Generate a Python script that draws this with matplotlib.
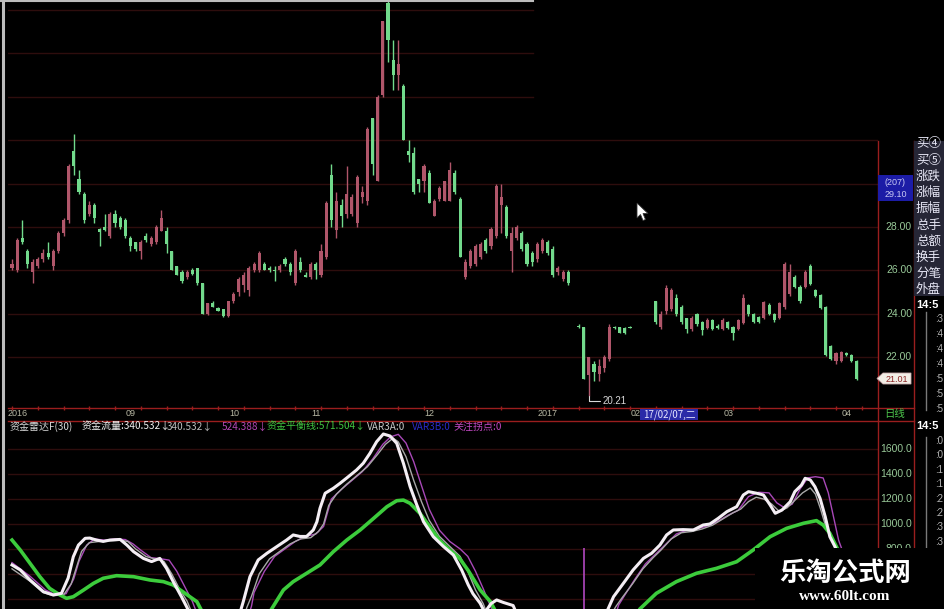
import numpy as np
import matplotlib
matplotlib.use('Agg')
import matplotlib.pyplot as plt
from matplotlib.lines import Line2D
from matplotlib.patches import Rectangle, Polygon
from matplotlib.ticker import MultipleLocator

plt.rcParams['font.family'] = ['Noto Sans CJK SC', 'DejaVu Sans']

W, H = 945, 609
nan = np.nan

# ---- daily K-line, one entry per trading day starting 2016-08-01 ----
opens = [26.1, 26.0, 27.5, 26.9, 25.9, 26.2, 26.5, 26.8, 26.2, 26.9,
         27.7, 28.3, 31.5, 30.2, 29.5, 28.6, 29.0, 27.9, 28.0, 27.6,
         28.6, 28.4, 28.3, 27.5, 27.3, 26.9, 27.6, 27.2, 27.3, 27.8,
         27.8, 26.9, 26.2, 25.9, 25.7, 26.0, 26.1, 25.4, 24.0, 24.5,
         24.25, 24.2, 23.9, 24.6, 25.0, 25.3, 25.1, 26.0, 26.0, 26.3,
         26.1, 26.0, 26.0, 26.5, 26.3, 25.4, 26.4, 25.8, 25.7, 26.3,
         25.8, 26.6, 30.4, 27.85, 29.0, 28.6, 28.6, 28.2, 29.4, 29.2,
         33.0, 30.1, 34.1, 38.3, 35.7, 35.0, 34.5, 31.5, 31.4, 30.2,
         30.1, 30.5, 28.5, 29.3, 29.2, 29.2, 30.5, 29.3, 25.7, 26.2,
         26.3, 26.6, 27.4, 27.1, 27.6, 29.0, 28.9, 26.9, 27.5, 27.7,
         27.2, 26.8, 26.5, 26.9, 27.3, 27.0, 25.9, 25.6, 25.9, nan,
         23.45, 23.4, 21.15, 21.7, 21.2, 21.5, 21.9, 23.4, 23.4, 23.35,
         23.4, nan, nan, nan, nan, 24.6, 23.4, 24.1, 24.2, 24.7,
         24.3, 23.8, 23.3, 24.0, 23.6, 23.35, 23.7, 23.45, 23.3, 23.6,
         23.4, 23.3, 23.55, 24.4, 24.0, 23.85, 23.8, 24.4, 24.0, 23.8,
         24.3, 24.9, 25.7, 25.25, 25.25, 26.2, 25.1, 24.85, 24.3, 22.5,
         21.8, 21.8, 22.2, 22.1, 21.8]
highs = [26.5, 27.5, 28.3, 27.0, 26.5, 26.6, 27.0, 27.3, 27.0, 27.8,
         28.4, 30.9, 32.3, 30.6, 29.6, 29.2, 29.1, 27.95, 28.6, 28.7,
         28.8, 28.5, 28.4, 27.6, 27.3, 27.4, 27.7, 27.6, 28.1, 28.8,
         28.0, 26.9, 26.2, 26.0, 26.0, 26.1, 26.1, 25.4, 24.5, 24.6,
         24.3, 24.2, 24.6, 25.0, 25.7, 25.9, 26.2, 26.4, 26.9, 26.4,
         26.2, 26.2, 26.3, 26.6, 26.4, 27.0, 26.6, 25.9, 26.4, 26.4,
         27.2, 29.2, 30.9, 29.6, 29.3, 30.8, 29.5, 30.4, 29.9, 32.6,
         33.0, 34.1, 37.5, 39.0, 36.6, 36.6, 34.6, 32.0, 31.7, 30.2,
         30.9, 30.6, 29.3, 29.9, 30.1, 31.0, 30.6, 29.4, 26.5, 27.0,
         27.2, 27.3, 27.5, 28.0, 30.0, 30.0, 29.0, 28.0, 28.1, 27.8,
         27.3, 26.9, 27.3, 27.5, 27.4, 27.1, 26.2, 26.0, 26.0, nan,
         23.5, 23.4, 22.0, 21.8, 21.9, 22.1, 23.5, 23.45, 23.4, 23.4,
         23.45, nan, nan, nan, nan, 24.6, 24.1, 25.3, 25.2, 24.9,
         24.4, 23.8, 23.9, 24.05, 23.65, 23.8, 23.75, 23.5, 23.8, 23.65,
         23.45, 23.75, 24.9, 24.45, 24.05, 23.9, 24.6, 24.5, 24.05, 24.55,
         26.4, 26.3, 25.8, 25.3, 26.0, 26.3, 25.15, 24.9, 24.35, 22.55,
         22.25, 22.3, 22.25, 22.15, 21.85]
lows = [26.0, 25.9, 27.2, 26.1, 25.4, 26.1, 26.4, 26.5, 26.0, 26.8,
        27.6, 28.2, 30.4, 29.5, 28.2, 28.5, 28.2, 27.1, 27.8, 27.5,
        28.0, 27.9, 27.5, 26.9, 26.9, 26.5, 27.3, 27.1, 27.2, 27.8,
        26.8, 26.0, 25.8, 25.4, 25.6, 25.8, 25.3, 24.0, 23.95, 24.3,
        24.1, 23.85, 23.85, 24.5, 24.8, 25.0, 24.8, 25.9, 25.9, 26.0,
        25.9, 25.5, 25.9, 26.2, 25.8, 25.3, 25.9, 25.7, 25.6, 25.6,
        25.7, 26.5, 28.0, 27.5, 28.0, 28.4, 28.5, 28.0, 29.1, 29.0,
        30.4, 30.1, 34.0, 35.6, 34.3, 34.3, 32.0, 31.0, 29.5, 29.6,
        29.6, 29.1, 28.5, 29.2, 29.2, 29.2, 29.5, 26.6, 25.6, 26.1,
        26.2, 26.5, 26.8, 27.0, 27.5, 27.7, 27.5, 25.9, 27.4, 26.9,
        26.2, 26.2, 26.4, 26.8, 26.7, 25.7, 25.8, 25.5, 25.3, nan,
        23.35, 21.0, 20.21, 20.9, 20.9, 21.3, 21.8, 23.3, 23.1, 23.05,
        23.35, nan, nan, nan, nan, 23.5, 23.3, 24.0, 24.1, 23.9,
        23.5, 23.1, 23.2, 23.45, 23.0, 23.3, 23.25, 23.3, 23.25, 23.3,
        22.8, 23.25, 23.5, 23.9, 23.55, 23.55, 23.75, 23.95, 23.6, 23.75,
        24.2, 24.8, 25.2, 24.5, 25.2, 25.3, 24.75, 24.2, 22.05, 21.85,
        21.7, 21.75, 22.05, 21.75, 20.95]
closes = [26.3, 27.4, 27.3, 26.3, 26.4, 26.5, 26.8, 26.6, 26.9, 27.7,
          28.3, 30.8, 30.8, 29.6, 28.3, 29.0, 28.4, 27.75, 27.85, 28.6,
          28.2, 28.0, 27.6, 27.1, 27.0, 27.3, 27.4, 27.5, 28.0, 28.4,
          27.2, 26.0, 25.8, 25.5, 25.9, 25.85, 25.4, 24.0, 24.5, 24.3,
          24.1, 23.9, 24.6, 24.9, 25.6, 25.8, 26.1, 26.3, 26.8, 26.0,
          26.0, 25.95, 26.2, 26.3, 25.9, 26.9, 26.0, 25.7, 26.3, 26.0,
          26.9, 29.1, 28.3, 29.2, 28.5, 29.5, 29.4, 30.3, 29.6, 32.5,
          30.9, 34.0, 37.5, 36.6, 35.0, 35.5, 32.0, 31.3, 29.6, 30.0,
          30.8, 29.1, 29.2, 29.8, 30.1, 30.6, 29.6, 26.6, 26.4, 26.9,
          27.1, 27.2, 26.9, 27.9, 29.9, 29.4, 27.6, 27.7, 28.0, 27.0,
          26.3, 26.4, 27.2, 27.4, 26.8, 25.8, 26.1, 25.9, 25.4, nan,
          23.4, 21.0, 22.0, 21.3, 21.6, 22.0, 23.4, 23.35, 23.1, 23.1,
          23.35, nan, nan, nan, nan, 23.6, 24.0, 25.2, 25.1, 24.0,
          23.6, 23.3, 23.8, 23.5, 23.25, 23.7, 23.3, 23.35, 23.7, 23.35,
          23.1, 23.7, 24.7, 24.0, 23.6, 23.6, 24.55, 24.0, 23.7, 24.5,
          26.3, 25.9, 25.25, 24.6, 25.9, 25.35, 24.8, 24.25, 22.1, 21.9,
          22.2, 22.25, 22.1, 21.8, 21.01]

month_days = [0, 23, 43, 59, 81, 103, 121, 139, 162]
month_labels = ['2016', '09', '10', '11', '12', '2017', '02', '03', '04']
price_ticks = [28, 26, 24, 22]
price_grid = [22, 24, 26, 28, 30, 32, 34, 36, 38]

# ---- 资金雷达 indicator lines, read as (trading day, value) ----
flow_days = [0, 1.6, 3.5, 6.1, 8.0, 9.6, 10.9, 11.9, 12.9, 14.2, 15.1, 16.4, 17.7, 19.0, 21.0,
             22.3, 23.6, 25.5, 27.1, 28.7, 30.0, 31.3, 32.9, 33.9, 34.9,
             44.0, 44.9, 46.2, 47.8, 49.5, 51.4, 53.3, 54.6, 55.9, 57.2, 58.5, 59.2, 59.8, 60.8,
             62.4, 63.7, 65.3, 66.9, 68.2, 69.5, 70.8, 72.1, 73.4, 74.7, 76.0, 77.3, 78.6, 79.9,
             81.8, 83.8, 85.7, 87.3, 88.6, 89.5, 90.9, 91.8, 93.0, 94.1, 95.4, 97.3, 98.3,
             115.0, 116.8, 118.7, 120.6, 122.6, 124.2, 125.8, 127.1, 128.4, 130.3, 132.3, 134.2,
             135.5, 137.1, 138.8, 140.7, 142.0, 143.0, 144.6, 145.9, 147.2, 148.2, 149.5, 151.1,
             152.0, 153.3, 154.0, 155.0, 155.9, 156.9, 157.9, 158.8, 159.8, 161.0, 162.5, 164.0]
flow_vals = [671, 631, 550, 456, 430, 443, 566, 737, 831, 885, 887, 871, 860, 871, 876,
             831, 778, 724, 698, 724, 644, 537, 416, 336, 250,
             250, 376, 577, 711, 765, 818, 871, 912, 900, 900, 952, 1018, 1126, 1247,
             1287, 1327, 1380, 1434, 1488, 1568, 1661, 1723, 1707, 1648, 1488, 1300, 1153, 1018,
             898, 818, 751, 631, 510, 440, 363, 290, 360, 390, 370, 345, 250,
             250, 416, 523, 631, 724, 765, 831, 912, 952, 955, 952, 992,
             1000, 1045, 1099, 1139, 1233, 1260, 1247, 1233, 1153, 1086, 1112, 1179,
             1260, 1313, 1367, 1354, 1300, 1206, 1059, 898, 818, 680, 500, 340.532]

flow2_days = [0, 3.5, 6, 8, 10, 11.5, 12.5, 13.5, 15, 17, 19, 21, 22.5, 24, 26, 28, 29.5, 31,
              32.5, 34, 35.3,
              45.0, 45.6, 46.5, 48, 50, 52, 54, 56, 58, 59.5, 60.5, 61.5, 63, 65, 67, 69, 71,
              72.5, 74, 75, 76.5, 78, 79.5, 81, 83, 85, 87, 88.5, 90, 91.5, 92.5,
              116.0, 117.3, 118.5, 120.5, 122.5, 124.5, 126, 128, 130, 132, 134, 136, 138, 140,
              141.5, 143, 144.5, 146, 147.5, 149, 150.5, 152, 153.5, 155, 156, 157, 158, 159.5,
              161, 162.5, 164]
flow2_vals = [640, 540, 450, 425, 430, 520, 650, 780, 850, 860, 865, 870, 860, 800, 740, 715, 700, 600,
              480, 380, 250,
              250, 330, 420, 600, 720, 780, 840, 880, 890, 940, 1000, 1150, 1240, 1320, 1390, 1460, 1560,
              1640, 1690, 1660, 1540, 1350, 1180, 1030, 900, 820, 740, 620, 470, 360, 250,
              250, 340, 410, 520, 640, 730, 790, 880, 930, 940, 960, 990, 1040, 1090,
              1120, 1180, 1215, 1200, 1160, 1100, 1130, 1190, 1250, 1290, 1240, 1120, 980, 840,
              700, 520, 340.532]

flow3_days = [0, 3.5, 6.5, 8.5, 10.5, 12, 13, 14.5, 16, 18, 20, 22, 23.5, 25, 27, 29, 30.5, 32,
              33.5, 35, 36.2,
              45.8, 46.5, 47, 49, 51, 53, 55, 57, 59, 60.5, 62, 64, 66, 68, 70, 72, 73.5, 75,
              76.5, 78, 79.5, 81, 83, 85, 87, 88.5, 90, 91.5, 93, 94,
              117.0, 117.8, 119, 121, 123, 125, 127, 129, 131, 133, 135, 137, 139, 141, 143, 145,
              147, 148.5, 150, 151.5, 153, 154.5, 156, 157.5, 158.5, 159.5, 160.5, 162, 164]
flow3_vals = [690, 580, 470, 430, 440, 560, 700, 830, 880, 870, 880, 875, 840, 790, 730, 720, 710, 620,
              500, 380, 250,
              250, 340, 450, 620, 740, 800, 860, 900, 920, 980, 1200, 1280, 1350, 1420, 1520, 1640, 1700, 1720,
              1650, 1500, 1310, 1120, 950, 860, 800, 740, 620, 480, 330, 250,
              250, 350, 430, 560, 680, 760, 840, 920, 950, 960, 985, 1020, 1070, 1110, 1220, 1255,
              1250, 1170, 1130, 1160, 1280, 1370, 1380, 1370, 1250, 1060, 870, 700, 524.388]

balance_days = [0, 1.6, 3.5, 5.4, 7.3, 9.3, 10.6, 11.9, 13.9, 15.8, 17.7, 20.3, 23.6, 26.8, 29.4,
                31.3, 33.6, 35.9, 37.5,
                49.5, 50.4, 52.7, 54.6, 57.2, 59.8, 62.4, 65.0, 67.6, 70.2, 72.8, 74.7, 76.0, 77.3,
                79.2, 81.1, 83.0, 85.0, 86.9, 88.6, 90.9, 92.9, 94.5,
                121.0, 121.9, 125.1, 129.0, 132.9, 136.8, 140.7, 143.9, 147.2, 150.4, 153.7, 156.2,
                157.5, 158.8, 159.8, 161.0, 164.0]
balance_vals = [871, 791, 684, 577, 483, 430, 403, 416, 470, 523, 564, 585, 577, 550, 537,
                510, 443, 376, 250,
                250, 317, 470, 537, 604, 671, 778, 871, 952, 1045, 1139, 1187, 1192, 1166,
                1086, 979, 871, 791, 724, 625, 470, 376, 250,
                250, 317, 443, 537, 604, 644, 697, 791, 898, 965, 1006, 1027,
                992, 925, 840, 740, 571.504]

turn_days = [111]
turn_vals = [805]
ind_grid = [400, 600, 800, 1000, 1200, 1400, 1600]
ind_ticks = [1600, 1400, 1200, 1000, 800]

UP = '#b0566a'
DOWN = '#72da8c'
GRID = '#2e0d0d'
FRAME = '#9a1e1e'
AXTXT = '#98c898'

fig = plt.figure(figsize=(W / 100, H / 100), dpi=100, facecolor='black')


def fx(x):
    return x / W


def fy(y):
    return 1 - y / H


def hline(y, x0, x1, color, lw=1.0, z=5):
    fig.add_artist(Line2D([fx(x0), fx(x1)], [fy(y), fy(y)], color=color, lw=lw, zorder=z))


def vline(x, y0, y1, color, lw=1.0, z=5):
    fig.add_artist(Line2D([fx(x), fx(x)], [fy(y0), fy(y1)], color=color, lw=lw, zorder=z))


def label(x, y, s, **kw):
    kw.setdefault('va', 'center')
    kw.setdefault('zorder', 20)
    return fig.text(fx(x), fy(y), s, **kw)


# ---- price panel ----
ax = fig.add_axes([fx(8), fy(408), fx(878) - fx(8), fy(0) - fy(408)])
ax.set_facecolor('black')
ax.set_xlim(-0.78, 168.15)
ax.set_ylim(19.65, 38.46)
for sp in ax.spines.values():
    sp.set_visible(False)
ax.set_xticks([])
ax.set_yticks([])
ax.xaxis.set_minor_locator(MultipleLocator(5))
ax.tick_params(axis='x', which='minor', length=3, width=1, color=FRAME, direction='inout')

cut = (533 - 8) / 870
for g in price_grid:
    ax.axhline(g, xmin=0, xmax=1 if g <= 32 else cut, color=GRID, lw=1, zorder=0)

o = np.array(opens, float)
hi = np.array(highs, float)
lo = np.array(lows, float)
c = np.array(closes, float)
days = np.arange(len(o))
ok = ~np.isnan(o)
for mask, col in ((ok & (c >= o), UP), (ok & (c < o), DOWN)):
    ax.vlines(days[mask], lo[mask], hi[mask], color=col, lw=1, zorder=2)
    ax.bar(days[mask], np.maximum(np.abs(c - o)[mask], 0.05), bottom=np.minimum(o, c)[mask],
           width=0.6, color=col, lw=0, zorder=3)

low_day = int(np.nanargmin(lo))
ax.annotate(f'{lo[low_day]:.2f}', xy=(low_day, lo[low_day]), xytext=(10, -4),
            textcoords='offset points', color='#d8d8d8', fontsize=7, va='center',
            family='Liberation Sans',
            arrowprops=dict(arrowstyle='-', color='#d8d8d8', lw=0.8, shrinkA=0, shrinkB=0,
                            connectionstyle='angle,angleA=0,angleB=90,rad=0'))

for d, lab in zip(month_days, month_labels):
    ax.text(d - 0.9, -6 / 408, lab, transform=ax.get_xaxis_transform(), ha='left', va='center',
            color='#b8b8a4', fontsize=6.5, family='Liberation Sans', clip_on=False)

xr = (912 - 8) / 870
for p in price_ticks:
    ax.text(xr, p, f'{p:.2f}', transform=ax.get_yaxis_transform(), ha='right', va='center',
            color=AXTXT, fontsize=7.5, family='Liberation Sans', clip_on=False)

# ---- indicator panel ----
ax2 = fig.add_axes([fx(8), fy(609), fx(878) - fx(8), fy(432) - fy(609)])
ax2.set_facecolor('black')
ax2.set_xlim(-0.78, 168.15)
ax2.set_ylim(317.3, 1739)
ax2.axis('off')
for g in ind_grid:
    ax2.axhline(g, color=GRID, lw=1, zorder=0)
ax2.plot(flow3_days, flow3_vals, color='#a848b8', lw=1.0, zorder=2)
ax2.plot(flow2_days, flow2_vals, color='#a8a8a8', lw=1.0, zorder=3)
ax2.plot(balance_days, balance_vals, color='#3ccc3c', lw=2.6, zorder=4)
ax2.plot(flow_days, flow_vals, color='#f4eef4', lw=2.2, zorder=5)
ax2.vlines(turn_days, 250, turn_vals, color='#b048c0', lw=1.2, zorder=2)
for v in ind_ticks:
    ax2.text(xr, v, f'{v:.1f}', transform=ax2.get_yaxis_transform(), ha='right', va='center',
             color=AXTXT, fontsize=7.5, family='Liberation Sans', clip_on=False)

# ---- frame lines ----
hline(408, 8, 914, FRAME)
hline(420.5, 8, 914, FRAME)
vline(878, 141, 609, FRAME)
vline(914, 141, 609, FRAME)
vline(926, 312, 410, '#7a7a7a')
vline(926, 437, 548, '#7a7a7a')
vline(3, 0, 609, '#bdbdbd', lw=2.2)
hline(0.6, 0, 533, '#bdbdbd', lw=1.5)

# date tooltip and period label
fig.add_artist(Rectangle((fx(640), fy(420)), fx(58), 11.5 / H, transform=fig.transFigure,
                         fc='#2a2aa8', ec='none', zorder=10))
label(669, 414.5, '17/02/07,二', ha='center', color='#e4e4ff', fontsize=7)
label(895, 414.5, '日线', ha='center', color='#4cc44c', fontsize=7.5)

# indicator caption row
caption = [(10, '资金雷达F(30)', '#d8d8d8'), (82, '资金流量:340.532↓', '#f0f0f0'),
           (167, '340.532↓', '#bcbcbc'), (222, '524.388↓', '#b448b4'),
           (267, '资金平衡线:571.504↓', '#40c440'), (367, 'VAR3A:0', '#c8c8c8'),
           (412, 'VAR3B:0', '#2a2ac8'), (453, '关注拐点:0', '#c048c0')]
for x, s, col in caption:
    label(x, 426.5, s, color=col, fontsize=7.2)

# price box and last price tag
fig.add_artist(Rectangle((fx(878.5), fy(201)), fx(34.5), 26 / H, transform=fig.transFigure,
                         fc='#1c1ca6', ec='none', zorder=10))
label(895.5, 182, '(207)', ha='center', color='#c8c8f4', fontsize=6.5, family='Liberation Sans')
label(895.5, 195, '29.10', ha='center', color='#c8c8f4', fontsize=6.5, family='Liberation Sans')

yl = H - ax.transData.transform((0, c[-1]))[1]
tag = [(877, yl), (883, yl - 5.5), (911, yl - 5.5), (911, yl + 5.5), (883, yl + 5.5)]
fig.add_artist(Polygon([(fx(a), fy(b)) for a, b in tag], closed=True, transform=fig.transFigure,
                       fc='#f2eee6', ec='#c8a8a8', lw=0.6, zorder=10))
label(897, yl + 0.5, f'{c[-1]:.2f}', ha='center', color='#8a2424', fontsize=6.5,
      family='Liberation Sans')

# right quote column
fig.add_artist(Rectangle((fx(914.5), fy(296)), fx(31), 155 / H, transform=fig.transFigure,
                         fc='#262636', ec='none', zorder=9))
quote_rows = ['买④', '买⑤', '涨跌', '涨幅', '振幅', '总手', '总额', '换手', '分笔', '外盘']
for i, s in enumerate(quote_rows):
    label(916, 144 + i * 16.2, s, color='#e8e8f6', fontsize=9)
label(916, 305, '14:5', color='white', fontsize=8, fontweight='bold', family='Liberation Sans')
for i, s in enumerate([':3', ':4', ':4', ':4', ':5', ':5', ':5']):
    label(935, 319 + i * 15, s, color='#b4b4b4', fontsize=7, family='Liberation Sans')
label(916, 426, '14:5', color='white', fontsize=8, fontweight='bold', family='Liberation Sans')
for i, s in enumerate([':0', ':0', ':1', ':1', ':2', ':2', ':3', ':3']):
    label(935, 441 + i * 14.4, s, color='#b4b4b4', fontsize=7, family='Liberation Sans')

# mouse pointer
ptr = [(637, 203), (637, 218), (640.5, 214.5), (643, 220.5), (645.5, 219.5), (643, 213.5), (648, 213.5)]
fig.add_artist(Polygon([(fx(a), fy(b)) for a, b in ptr], closed=True, transform=fig.transFigure,
                       fc='white', ec='#333333', lw=0.6, zorder=30))

# site watermark
fig.add_artist(Rectangle((fx(755), 0), fx(190), 61 / H, transform=fig.transFigure,
                         fc='black', ec='none', zorder=100))
label(845, 573, '乐淘公式网', ha='center', color='white', fontsize=19, fontweight='bold', zorder=101)
label(845, 597, 'www.60lt.com', ha='center', color='white', fontsize=11, fontweight='bold',
      family='Liberation Serif', zorder=101)

fig.savefig('out.png', dpi=100, facecolor='black')
